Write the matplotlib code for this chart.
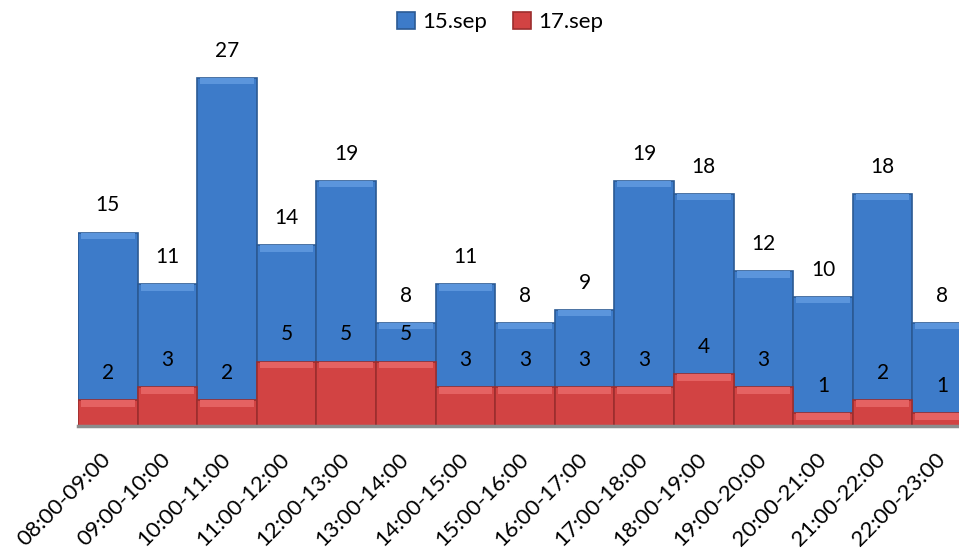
import matplotlib.pyplot as plt
import numpy as np

slots = ['08:00-09:00', '09:00-10:00', '10:00-11:00', '11:00-12:00', '12:00-13:00',
         '13:00-14:00', '14:00-15:00', '15:00-16:00', '16:00-17:00', '17:00-18:00',
         '18:00-19:00', '19:00-20:00', '20:00-21:00', '21:00-22:00', '22:00-23:00']
sep15 = [15, 11, 27, 14, 19, 8, 11, 8, 9, 19, 18, 12, 10, 18, 8]
sep17 = [2, 3, 2, 5, 5, 5, 3, 3, 3, 3, 4, 3, 1, 2, 1]

plt.rcParams['font.family'] = ['Lato', 'DejaVu Sans']

fig = plt.figure(figsize=(9.59, 5.55), dpi=100)
# axes runs past the right edge, like the original where the last bar is cut
ax = fig.add_axes([78 / 959, 129 / 555, 894 / 959, 387 / 555])

xs = np.arange(len(slots))
b1 = ax.bar(xs, sep15, width=1.0, color='#3d7bc9', edgecolor='#2b5a94', linewidth=1.2,
            label='15.sep', zorder=2)
b2 = ax.bar(xs, sep17, width=1.0, color='#d24343', edgecolor='#9c2e2e', linewidth=1.2,
            label='17.sep', zorder=3)

# light bevel strip on top of each bar
for x, v in zip(xs, sep15):
    ax.bar(x, 0.5, bottom=v - 0.5, width=0.9, color='#5b95dc', linewidth=0, zorder=2.5)
for x, v in zip(xs, sep17):
    ax.bar(x, 0.5, bottom=v - 0.5, width=0.9, color='#e56262', linewidth=0, zorder=3.5)

for x, v in zip(xs, sep15):
    ax.annotate(str(v), (x, v), xytext=(0, 19.5), textcoords='offset points',
                ha='center', va='center', fontsize=15, color='black')
for x, v in zip(xs, sep17):
    ax.annotate(str(v), (x, v), xytext=(0, 19.5), textcoords='offset points',
                ha='center', va='center', fontsize=15, color='black', zorder=5)

ax.set_xlim(-0.5, 14.5)
ax.set_ylim(0, 30)
ax.set_yticks([])
ax.set_xticks(xs)
ax.set_xticklabels(slots, rotation=45, ha='right', va='center', rotation_mode='anchor',
                   fontsize=16)
ax.tick_params(axis='x', length=0, pad=22)
for s in ['top', 'right', 'left']:
    ax.spines[s].set_visible(False)
ax.spines['bottom'].set_color('#8c8c8c')
ax.spines['bottom'].set_linewidth(2.5)
ax.spines['bottom'].set_zorder(4)

fig.legend(handles=[b1, b2], loc='upper center', bbox_to_anchor=(500 / 959, 1.015), ncol=2,
           frameon=False, fontsize=16, handlelength=0.8, handleheight=0.8,
           handletextpad=0.3, columnspacing=1.2)

fig.savefig('out.png', dpi=100)
